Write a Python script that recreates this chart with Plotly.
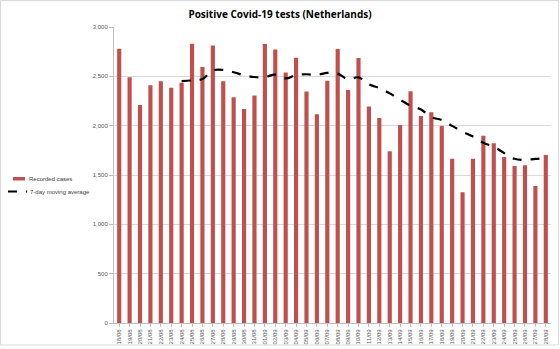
import plotly.graph_objects as go

dates = ["18/08","19/08","20/08","21/08","22/08","23/08","24/08","25/08","26/08","27/08",
         "28/08","29/08","30/08","31/08","01/09","02/09","03/09","04/09","05/09","06/09",
         "07/09","08/09","09/09","10/09","11/09","12/09","13/09","14/09","15/09","16/09",
         "17/09","18/09","19/09","20/09","21/09","22/09","23/09","24/09","25/09","26/09",
         "27/09","28/09"]
cases = [2780, 2490, 2210, 2410, 2450, 2385, 2435, 2830, 2594, 2813,
         2449, 2287, 2168, 2307, 2827, 2773, 2540, 2688, 2347, 2115,
         2455, 2776, 2361, 2685, 2195, 2077, 1740, 2006, 2350, 2097,
         2135, 1996, 1665, 1324, 1665, 1898, 1821, 1682, 1591, 1598,
         1388, 1702]
avg_dates = dates[6:]
moving_avg = [2451, 2459, 2473, 2560, 2565, 2542, 2511, 2493, 2492, 2518,
              2479, 2513, 2521, 2514, 2535, 2528, 2469, 2490, 2419, 2381,
              2327, 2263, 2202, 2164, 2086, 2057, 1998, 1939, 1890, 1826,
              1786, 1722, 1664, 1654, 1663, 1669]
y_ticks = [0, 500, 1000, 1500, 2000, 2500, 3000]
series_names = ["Recorded cases", "7-day moving average"]

W, H = 560, 349
ML, MR, MT, MB = 114, 9, 27, 26
PW, PH = W - ML - MR, H - MT - MB

def px(x):
    return (x - ML) / PW

def py(y):
    return (H - MB - y) / PH

fig = go.Figure()
fig.add_trace(go.Bar(x=dates, y=cases, name=series_names[0],
                     marker=dict(color="#C0504D", line=dict(width=0))))
fig.add_trace(go.Scatter(x=avg_dates, y=moving_avg, name=series_names[1],
                         mode="lines", line=dict(color="black", width=2.2, dash="dash", shape="spline")))

shapes = [
    dict(type="rect", xref="paper", yref="paper",
         x0=px(0.5), x1=px(W - 1.5), y0=py(H - 4), y1=py(0.5),
         line=dict(color="#D9D9D9", width=1), fillcolor="rgba(0,0,0,0)"),
    # legend: bar swatch
    dict(type="rect", xref="paper", yref="paper",
         x0=px(13), x1=px(25), y0=py(180.5), y1=py(177),
         line=dict(width=0), fillcolor="#C0504D"),
    # legend: dashed line
    dict(type="line", xref="paper", yref="paper",
         x0=px(8), x1=px(27), y0=py(191.5), y1=py(191.5),
         line=dict(color="black", width=2, dash="dash")),
]
annotations = [
    dict(text=series_names[0], xref="paper", yref="paper", x=px(27), y=py(179),
         xanchor="left", yanchor="middle", showarrow=False,
         font=dict(size=6, color="#404040")),
    dict(text=series_names[1], xref="paper", yref="paper", x=px(28), y=py(191.5),
         xanchor="left", yanchor="middle", showarrow=False,
         font=dict(size=6, color="#404040")),
]

fig.update_layout(
    width=W, height=H,
    margin=dict(l=ML, r=MR, t=MT, b=MB, autoexpand=False),
    paper_bgcolor="white", plot_bgcolor="white",
    font=dict(family="Liberation Sans, Arial, sans-serif", color="#595959", size=6),
    title=dict(text="<b>Positive Covid-19 tests (Netherlands)</b>", x=0.5, xanchor="center",
               y=1 - 14 / H, yanchor="middle",
               font=dict(family="Open Sans, Liberation Sans, sans-serif", size=10, color="black")),
    bargap=0.6,
    showlegend=False,
    xaxis=dict(type="category", tickangle=-90, showgrid=False, showline=True, automargin=False,
               linecolor="#BFBFBF", linewidth=1, ticks="outside", tickcolor="#BFBFBF",
               ticklen=3, tickfont=dict(size=6, color="#595959"), fixedrange=True),
    yaxis=dict(range=[0, 3000], tickvals=y_ticks, tickformat=",", showgrid=True, automargin=False,
               gridcolor="#D9D9D9", gridwidth=1, showline=True, linecolor="#BFBFBF",
               ticks="outside", tickcolor="#BFBFBF", ticklen=4, zeroline=False,
               tickfont=dict(size=6, color="#595959"), fixedrange=True),
    shapes=shapes,
    annotations=annotations,
)

fig.write_html("out.html")
